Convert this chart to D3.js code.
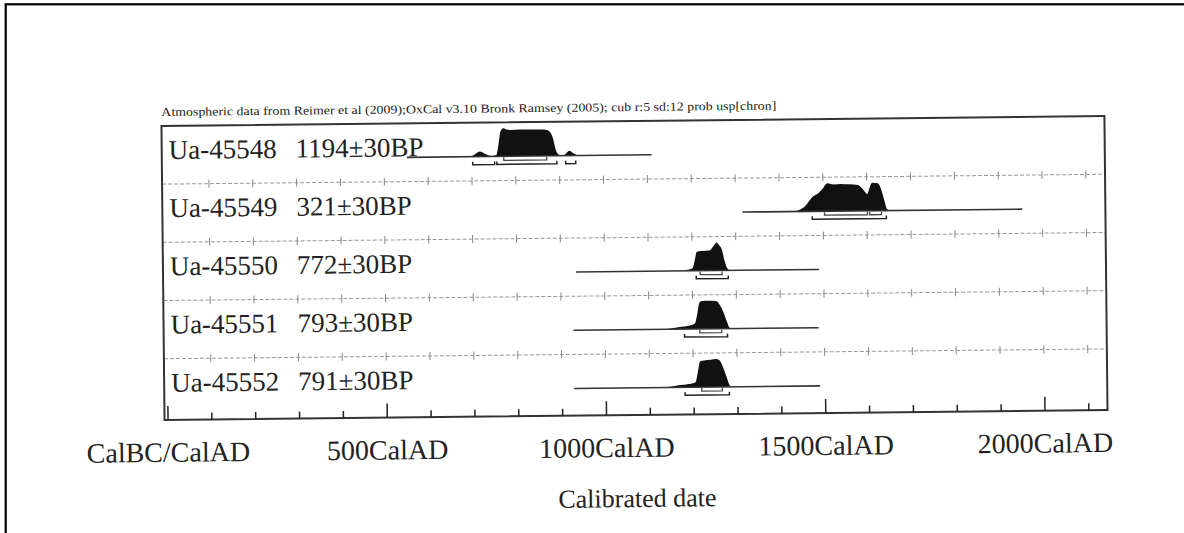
<!DOCTYPE html>
<html>
<head>
<meta charset="utf-8">
<script src="https://cdn.jsdelivr.net/npm/d3@7"></script>
<style>
  body { margin: 0; background: #fff; }
  svg text { font-family: "Liberation Serif", "Times New Roman", serif; fill: #222; }
</style>
</head>
<body>
<div class="oxcal"></div>
<script>
// Sample names and conventional ages
const samples = ["Ua-45548", "Ua-45549", "Ua-45550", "Ua-45551", "Ua-45552"];
const bpDates = ["1194±30BP", "321±30BP", "772±30BP", "793±30BP", "791±30BP"];

// calendar span of the calibration line for each sample (cal AD)
const calSpans = [[552, 1110], [1316, 1954], [935, 1489], [928, 1487], [928, 1489]];

// relative probability, [year, p]
const prob45548 = [[552, 0], [690, 0], [705, 0.06], [718, 0.18], [730, 0.1], [745, 0.02], [756, 0.05],
  [761, 0.4], [766, 0.88], [772, 1.0], [778, 0.97], [790, 0.94], [810, 0.95], [830, 0.95], [850, 0.95],
  [866, 0.94], [878, 0.87], [886, 0.6], [892, 0.2], [900, 0.03], [909, 0.02], [916, 0.1], [923, 0.18],
  [930, 0.1], [940, 0.02], [955, 0], [1110, 0]];
const prob45549 = [[1316, 0], [1430, 0], [1445, 0.05], [1460, 0.2], [1475, 0.5], [1490, 0.65], [1499, 0.8],
  [1510, 1.0], [1525, 0.95], [1540, 0.97], [1560, 0.95], [1580, 0.92], [1592, 0.75], [1601, 0.6],
  [1607, 0.85], [1612, 1.0], [1625, 0.98], [1632, 0.8], [1640, 0.35], [1646, 0.05], [1655, 0], [1954, 0]];
const prob45550 = [[935, 0], [1160, 0], [1190, 0.04], [1200, 0.08], [1205, 0.3], [1211, 0.68], [1220, 0.7],
  [1240, 0.72], [1248, 0.85], [1256, 1.0], [1262, 0.9], [1268, 0.75], [1274, 0.35], [1280, 0.08],
  [1287, 0], [1489, 0]];
const prob45551 = [[928, 0], [1130, 0], [1150, 0.03], [1170, 0.08], [1190, 0.12], [1205, 0.2], [1210, 0.5],
  [1216, 0.95], [1222, 1.0], [1240, 1.0], [1255, 0.98], [1262, 0.85], [1270, 0.6], [1278, 0.25],
  [1284, 0.03], [1292, 0], [1487, 0]];
const prob45552 = [[928, 0], [1130, 0], [1150, 0.03], [1170, 0.08], [1190, 0.12], [1205, 0.18], [1210, 0.5],
  [1216, 0.92], [1225, 0.95], [1240, 0.97], [1252, 1.0], [1260, 0.95], [1268, 0.7], [1276, 0.35],
  [1283, 0.05], [1290, 0], [1489, 0]];
const probs = [prob45548, prob45549, prob45550, prob45551, prob45552];

// 68.2% and 95.4% ranges
const range68 = [[[773, 871]], [[1503, 1601], [1606, 1633]], [[1218, 1268]], [[1216, 1266]], [[1219, 1266]]];
const range95 = [[[702, 752], [757, 894], [914, 937]], [[1475, 1644]], [[1209, 1282]], [[1181, 1279]], [[1181, 1282]]];

// axis
const majorTicks = [0, 500, 1000, 1500, 2000];
const majorLabels = ["CalBC/CalAD", "500CalAD", "1000CalAD", "1500CalAD", "2000CalAD"];
const minorTicks = [100, 200, 300, 400, 600, 700, 800, 900, 1100, 1200, 1300, 1400, 1600, 1700, 1800, 1900, 2100];
const gridTicks = [100, 200, 300, 400, 500, 600, 700, 800, 900, 1000, 1100, 1200, 1300, 1400, 1500, 1600, 1700, 1800, 1900, 2000, 2100];

const titleText = "Atmospheric data from Reimer et al (2009);OxCal v3.10 Bronk Ramsey (2005); cub r:5 sd:12 prob usp[chron]";
const xTitle = "Calibrated date";

const svgWidth = 1184;
const svgHeight = 533;

const frame = { left: 163, right: 1106, top: 121, bottom: 415 };

const svg = d3.select(".oxcal")
  .append("svg")
  .attr("width", svgWidth)
  .attr("height", svgHeight);

// outer page border (open to the right/bottom)
svg.append("rect")
  .attr("x", 5.7).attr("y", 4.3)
  .attr("width", 1300).attr("height", 700)
  .attr("fill", "none")
  .attr("stroke", "#000")
  .attr("stroke-width", 2.2);

// the scan is slightly tilted
const plot = svg.append("g")
  .attr("transform", "rotate(-0.6, 635, 270)");

const x = d3.scaleLinear()
  .domain([0, 2000])
  .range([166, 1043]);

const y = d3.scaleBand()
  .domain(samples)
  .range([frame.top, 412]);

const pScale = d3.scaleLinear().domain([0, 1]).range([0, 28]);

// title
plot.append("text")
  .attr("x", 163)
  .attr("y", 111)
  .attr("font-size", 12)
  .attr("font-family", "Liberation Serif, serif")
  .attr("fill", "#333")
  .attr("textLength", 615)
  .attr("lengthAdjust", "spacingAndGlyphs")
  .text(titleText);

// row separators with small ticks
const seps = samples.slice(1);
plot.selectAll(".sep")
  .data(seps)
  .enter()
  .append("line")
  .attr("class", "sep")
  .attr("x1", frame.left).attr("x2", frame.right)
  .attr("y1", d => y(d)).attr("y2", d => y(d))
  .attr("stroke", "#999")
  .attr("stroke-width", 1)
  .attr("stroke-dasharray", "4,2");

seps.forEach(s => {
  plot.selectAll(null)
    .data(gridTicks)
    .enter()
    .append("line")
    .attr("x1", d => x(d)).attr("x2", d => x(d))
    .attr("y1", y(s) - 4).attr("y2", y(s) + 4)
    .attr("stroke", "#888")
    .attr("stroke-width", 1);
});

// rows
const rows = plot.selectAll(".row")
  .data(samples)
  .enter()
  .append("g")
  .attr("class", "row")
  .attr("transform", d => `translate(0, ${y(d)})`);

rows.append("text")
  .attr("x", 170)
  .attr("y", 33)
  .attr("font-size", 27)
  .text(d => d);

rows.append("text")
  .attr("x", 297)
  .attr("y", 33)
  .attr("font-size", 27)
  .text((d, i) => bpDates[i]);

const base = 34;

const area = d3.area()
  .x(d => x(d[0]))
  .y0(base)
  .y1(d => base - pScale(d[1]))
  .curve(d3.curveMonotoneX);

rows.append("path")
  .attr("d", (d, i) => area(probs[i]))
  .attr("fill", "#111");

// calibration line
rows.append("line")
  .attr("x1", (d, i) => x(calSpans[i][0]))
  .attr("x2", (d, i) => x(calSpans[i][1]))
  .attr("y1", base).attr("y2", base)
  .attr("stroke", "#333")
  .attr("stroke-width", 1.6);

// range brackets
function bracket(r, yy) {
  return `M${x(r[0])},${yy - 3}L${x(r[0])},${yy}L${x(r[1])},${yy}L${x(r[1])},${yy - 3}`;
}

rows.each(function (d, i) {
  const g = d3.select(this);
  range68[i].forEach(r => {
    g.append("path").attr("d", bracket(r, base + 4))
      .attr("fill", "none").attr("stroke", "#444").attr("stroke-width", 1.3);
  });
  range95[i].forEach(r => {
    g.append("path").attr("d", bracket(r, base + 8))
      .attr("fill", "none").attr("stroke", "#222").attr("stroke-width", 1.5);
  });
});

// frame
plot.append("rect")
  .attr("x", frame.left).attr("y", frame.top)
  .attr("width", frame.right - frame.left)
  .attr("height", frame.bottom - frame.top)
  .attr("fill", "none")
  .attr("stroke", "#333")
  .attr("stroke-width", 2);

// bottom axis, ticks pointing up into the plot
const majorAxis = d3.axisBottom(x)
  .tickValues(majorTicks)
  .tickSizeInner(-14)
  .tickSizeOuter(0)
  .tickFormat((d, i) => majorLabels[i]);

const minorAxis = d3.axisBottom(x)
  .tickValues(minorTicks)
  .tickSizeInner(-7)
  .tickSizeOuter(0)
  .tickFormat("");

const gMinor = plot.append("g")
  .attr("transform", `translate(0, ${frame.bottom})`)
  .call(minorAxis);

const gMajor = plot.append("g")
  .attr("transform", `translate(0, ${frame.bottom})`)
  .call(majorAxis);

[gMinor, gMajor].forEach(g => {
  g.select(".domain").remove();
  g.selectAll(".tick line").attr("stroke", "#222").attr("stroke-width", 1.5);
});

gMajor.selectAll(".tick text")
  .attr("y", 22)
  .attr("font-size", 28)
  .attr("font-family", "Liberation Serif, serif")
  .attr("fill", "#222");

plot.append("text")
  .attr("x", 635)
  .attr("y", 507)
  .attr("text-anchor", "middle")
  .attr("font-size", 26)
  .text(xTitle);
</script>
</body>
</html>
